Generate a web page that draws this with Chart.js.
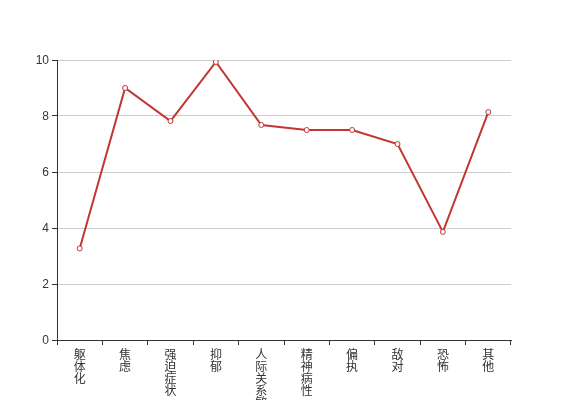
<!DOCTYPE html>
<html>
<head>
<meta charset="utf-8">
<script src="https://cdn.jsdelivr.net/npm/chart.js@4/dist/chart.umd.min.js"></script>
<style>
  html, body { margin: 0; padding: 0; background: #fff; }
  #wrap { width: 567px; height: 400px; }
</style>
</head>
<body>
<div id="wrap"><canvas id="resultChart" width="567" height="400"></canvas></div>
<script>
const categories = ['躯体化', '焦虑', '强迫症状', '抑郁', '人际关系敏感', '精神病性', '偏执', '敌对', '恐怖', '其他'];
const scores = [3.27, 9.0, 7.82, 9.93, 7.68, 7.5, 7.5, 7.0, 3.86, 8.14];
const yTicks = [0, 2, 4, 6, 8, 10];

// vertical labels: one character per line
const verticalLabels = categories.map(c => c.split(''));

const ctx = document.getElementById('resultChart').getContext('2d');
new Chart(ctx, {
  type: 'line',
  data: {
    labels: verticalLabels,
    datasets: [{
      data: scores,
      borderColor: '#c23531',
      backgroundColor: '#ffffff',
      borderWidth: 2,
      pointRadius: 2.5,
      pointBorderWidth: 1,
      pointBackgroundColor: '#ffffff',
      pointBorderColor: '#c23531',
      tension: 0
    }]
  },
  options: {
    responsive: false,
    animation: false,
    layout: { padding: { top: 60, right: 56, left: 0, bottom: 0 } },
    plugins: { legend: { display: false }, tooltip: { enabled: false } },
    scales: {
      x: {
        offset: true,
        grid: {
          offset: true,
          drawOnChartArea: false,
          drawTicks: true,
          tickLength: 5,
          tickColor: '#333'
        },
        border: { color: '#333', width: 1 },
        ticks: {
          autoSkip: false,
          maxRotation: 0,
          minRotation: 0,
          padding: 3,
          color: '#333',
          font: { family: '"Noto Sans CJK SC", sans-serif', size: 12, lineHeight: 1.0 }
        },
        afterFit: scale => { scale.height = 60; }
      },
      y: {
        min: 0,
        max: 10,
        afterBuildTicks: scale => { scale.ticks = yTicks.map(v => ({ value: v })); },
        grid: {
          color: '#ccc',
          tickColor: '#333',
          tickLength: 5
        },
        border: { color: '#333', width: 1 },
        ticks: {
          padding: 3,
          labelOffset: 1,
          color: '#333',
          font: { family: '"Liberation Sans", Arial, sans-serif', size: 12 }
        },
        afterFit: scale => { scale.width = 57; }
      }
    }
  }
});
</script>
</body>
</html>
